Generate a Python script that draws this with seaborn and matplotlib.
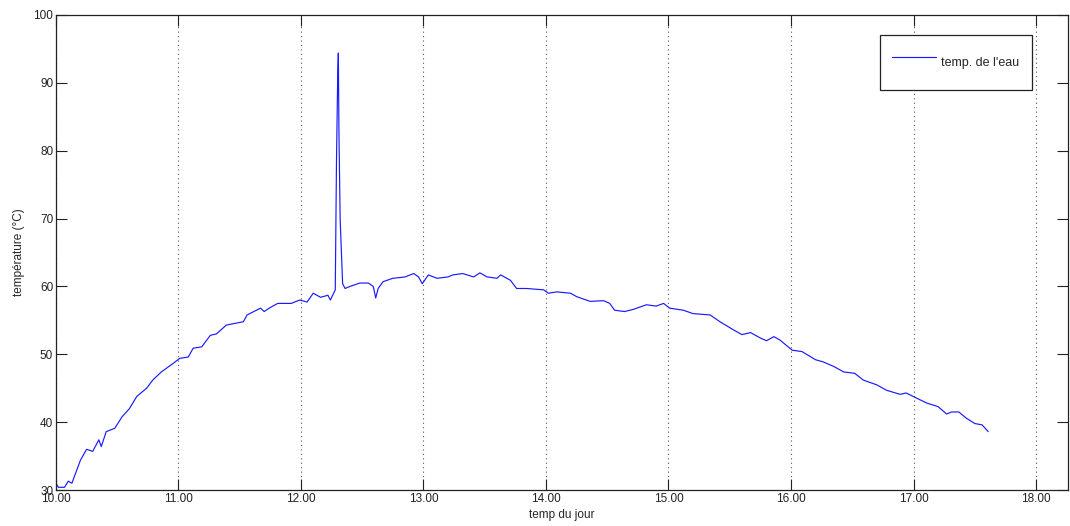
import matplotlib
matplotlib.use("Agg")
import matplotlib.pyplot as plt
import seaborn as sns
import pandas as pd

# temps (heures décimales) et température de l'eau (°C)
heure = [10.00, 10.02, 10.07, 10.10, 10.13, 10.20, 10.25, 10.30, 10.35, 10.37,
         10.41, 10.48, 10.54, 10.60, 10.66, 10.74, 10.79, 10.86, 10.96, 11.01,
         11.08, 11.12, 11.19, 11.26, 11.31, 11.39, 11.53, 11.56, 11.67, 11.70,
         11.75, 11.81, 11.92, 11.99, 12.05, 12.10, 12.16, 12.22, 12.24, 12.28,
         12.29, 12.30, 12.305, 12.31, 12.32, 12.34, 12.36, 12.40, 12.48, 12.55,
         12.59, 12.61, 12.63, 12.67, 12.75, 12.85, 12.92, 12.96, 12.99, 13.04,
         13.11, 13.20, 13.24, 13.32, 13.41, 13.46, 13.52, 13.60, 13.63, 13.71,
         13.76, 13.84, 13.98, 14.02, 14.09, 14.20, 14.25, 14.36, 14.47, 14.52,
         14.56, 14.64, 14.71, 14.82, 14.90, 14.96, 15.01, 15.12, 15.20, 15.34,
         15.42, 15.53, 15.60, 15.67, 15.75, 15.80, 15.86, 15.91, 16.01, 16.09,
         16.20, 16.26, 16.35, 16.43, 16.52, 16.59, 16.70, 16.78, 16.89, 16.94,
         17.03, 17.11, 17.20, 17.27, 17.31, 17.37, 17.43, 17.50, 17.56, 17.61]
temperature = [31.0, 30.4, 30.4, 31.3, 31.0, 34.4, 36.0, 35.7, 37.4, 36.4,
               38.6, 39.1, 40.8, 42.0, 43.8, 45.0, 46.2, 47.4, 48.7, 49.4,
               49.6, 50.9, 51.1, 52.8, 53.0, 54.3, 54.8, 55.8, 56.8, 56.3,
               56.9, 57.5, 57.5, 58.0, 57.7, 59.0, 58.4, 58.7, 58.0, 59.5,
               78.6, 91.2, 94.4, 82.6, 69.8, 60.4, 59.7, 60.0, 60.5, 60.5,
               60.0, 58.3, 59.7, 60.7, 61.2, 61.4, 61.9, 61.4, 60.4, 61.7,
               61.2, 61.4, 61.7, 61.9, 61.4, 62.0, 61.4, 61.2, 61.7, 60.9,
               59.7, 59.7, 59.5, 59.0, 59.2, 59.0, 58.5, 57.8, 57.9, 57.5,
               56.5, 56.3, 56.6, 57.3, 57.1, 57.5, 56.8, 56.5, 56.0, 55.8,
               54.8, 53.6, 52.9, 53.2, 52.4, 52.0, 52.6, 52.1, 50.6, 50.4,
               49.2, 48.9, 48.2, 47.4, 47.2, 46.2, 45.5, 44.7, 44.1, 44.3,
               43.5, 42.8, 42.3, 41.2, 41.5, 41.5, 40.6, 39.8, 39.6, 38.6]
x_ticks = [10, 11, 12, 13, 14, 15, 16, 17, 18]
y_ticks = [30, 40, 50, 60, 70, 80, 90, 100]

df = pd.DataFrame({"heure": heure, "temp": temperature})

sns.set_style("ticks")
plt.rcParams['font.family'] = ['Liberation Sans', 'DejaVu Sans']
plt.rcParams['font.size'] = 8.5

fig = plt.figure(figsize=(10.7, 5.26), dpi=100)
ax = fig.add_axes([0.0523, 0.0684, 0.9457, 0.9031])

sns.lineplot(data=df, x="heure", y="temp", color="#1a1aff", linewidth=0.85,
             label="temp. de l'eau", ax=ax)

ax.set_xlim(10, 18.26)
ax.set_ylim(30, 100)
ax.set_xticks(x_ticks)
ax.set_xticklabels(["%.2f" % t for t in x_ticks])
ax.set_yticks(y_ticks)
ax.tick_params(direction="in", length=8, width=0.8, top=True, right=True,
               labelsize=8.5, pad=2, colors="#222222")
for s in ax.spines.values():
    s.set_linewidth(0.9)
    s.set_color("#222222")
ax.xaxis.grid(True, linestyle=(0, (1, 3)), color="#555555", linewidth=0.8)
ax.set_xlabel("temp du jour", fontsize=8.5, labelpad=3)
ax.set_ylabel("température (°C)", fontsize=8.5, labelpad=6)

leg = ax.legend(loc="upper left", bbox_to_anchor=(0.8142, 0.958), fancybox=False,
                edgecolor="#222222", framealpha=1, handlelength=3.5,
                handleheight=3.3, handletextpad=0.4, borderpad=1.0,
                borderaxespad=0, fontsize=9)
leg.get_frame().set_linewidth(0.9)

plt.savefig("out.png", dpi=100)
